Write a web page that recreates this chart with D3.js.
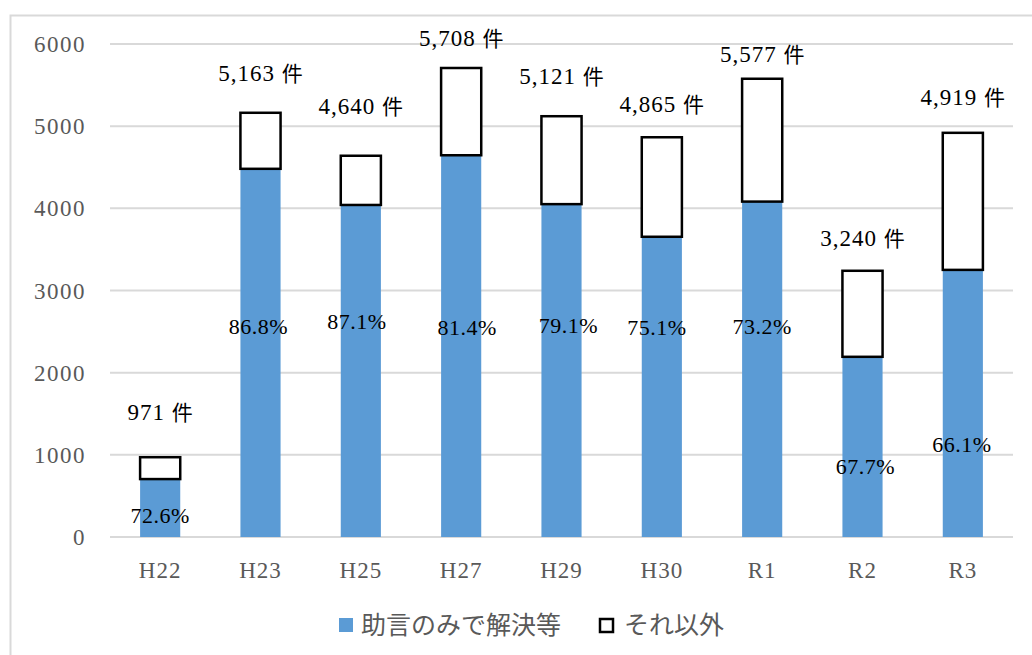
<!DOCTYPE html>
<html>
<head>
<meta charset="utf-8">
<script src="https://cdn.jsdelivr.net/npm/d3@7"></script>
<style>
  body { margin: 0; background: #fff; }
  svg text { font-family: "Liberation Serif", "DejaVu Serif", serif; }
  .jp { font-family: "Noto Sans CJK JP", sans-serif; }
</style>
</head>
<body>
<svg id="chart"></svg>
<script>
'use strict';

// data
const categories = ['H22', 'H23', 'H25', 'H27', 'H29', 'H30', 'R1', 'R2', 'R3'];
const totals = [971, 5163, 4640, 5708, 5121, 4865, 5577, 3240, 4919];
const resolved = [705, 4481, 4041, 4646, 4051, 3654, 4082, 2193, 3251];
const pctLabels = ['72.6%', '86.8%', '87.1%', '81.4%', '79.1%', '75.1%', '73.2%', '67.7%', '66.1%'];
const yTicks = [0, 1000, 2000, 3000, 4000, 5000, 6000];
const seriesNames = ['助言のみで解決等', 'それ以外'];

// hand placed labels (as in the source)
const totalLabelGap = [45, 40, 50, 30, 40, 33, 25, 33, 36];
const pctLabelAt = [270, 2560, 2620, 2550, 2580, 2550, 2570, 860, 1130];
const pctShift = [0, -2, -4, 6, 7, -5, 0, 3, -1];

const width = 1032, height = 655;
const svg = d3.select('#chart').attr('width', width).attr('height', height);

// frame
svg.append('path')
  .attr('d', `M10.5,${height} V15.5 H${width}`)
  .attr('fill', 'none')
  .attr('stroke', '#d9d9d9')
  .attr('stroke-width', 2);

const x = d3.scaleBand()
  .domain(categories)
  .range([110, 1013])
  .paddingInner(0.6)
  .paddingOuter(0.3);

const y = d3.scaleLinear()
  .domain([0, 6000])
  .range([537, 44]);

// gridlines
svg.append('g')
  .selectAll('line')
  .data(yTicks)
  .enter()
  .append('line')
  .attr('x1', 110)
  .attr('x2', 1013)
  .attr('y1', d => y(d))
  .attr('y2', d => y(d))
  .attr('stroke', '#d9d9d9')
  .attr('stroke-width', 2);

// y labels
svg.append('g')
  .selectAll('text')
  .data(yTicks)
  .enter()
  .append('text')
  .attr('x', 86)
  .attr('y', d => y(d))
  .attr('dy', '0.35em')
  .attr('text-anchor', 'end')
  .attr('fill', '#595959')
  .style('font-size', '23px')
  .style('letter-spacing', '1.5px')
  .text(d => d);

// x labels
svg.append('g')
  .selectAll('text')
  .data(categories)
  .enter()
  .append('text')
  .attr('x', d => x(d) + x.bandwidth() / 2)
  .attr('y', 570)
  .attr('dy', '0.35em')
  .attr('text-anchor', 'middle')
  .attr('fill', '#595959')
  .style('font-size', '23px')
  .style('letter-spacing', '1px')
  .text(d => d);

const bars = svg.append('g')
  .selectAll('g')
  .data(categories)
  .enter()
  .append('g');

// blue part
bars.append('rect')
  .attr('x', d => x(d))
  .attr('width', x.bandwidth())
  .attr('y', (d, i) => y(resolved[i]))
  .attr('height', (d, i) => y(0) - y(resolved[i]))
  .attr('fill', '#5b9bd5');

// remainder
bars.append('rect')
  .attr('x', d => x(d))
  .attr('width', x.bandwidth())
  .attr('y', (d, i) => y(totals[i]))
  .attr('height', (d, i) => y(resolved[i]) - y(totals[i]))
  .attr('fill', '#fff')
  .attr('stroke', '#000')
  .attr('stroke-width', 2.5);

// total labels
bars.append('text')
  .attr('x', d => x(d) + x.bandwidth() / 2)
  .attr('y', (d, i) => y(totals[i]) - totalLabelGap[i])
  .attr('dy', '0.35em')
  .attr('text-anchor', 'middle')
  .attr('fill', '#000')
  .style('font-size', '23px')
  .each(function(d, i) {
    const t = d3.select(this);
    t.append('tspan').style('letter-spacing', '1px').text(d3.format(',')(totals[i]) + ' ');
    t.append('tspan').attr('class', 'jp').style('font-size', '21px').text('件');
  });

// percent labels
bars.append('text')
  .attr('x', (d, i) => x(d) + x.bandwidth() / 2 + pctShift[i])
  .attr('y', (d, i) => y(pctLabelAt[i]))
  .attr('dy', '0.35em')
  .attr('text-anchor', 'middle')
  .attr('fill', '#000')
  .style('font-size', '22px')
  .style('letter-spacing', '0.5px')
  .text((d, i) => pctLabels[i]);

// legend
const legend = svg.append('g').attr('transform', 'translate(339,625)');
legend.append('rect')
  .attr('x', 0).attr('y', -7)
  .attr('width', 14).attr('height', 14)
  .attr('fill', '#5b9bd5');
legend.append('text')
  .attr('class', 'jp')
  .attr('x', 22).attr('y', 0).attr('dy', '0.35em')
  .attr('fill', '#595959')
  .style('font-size', '25px')
  .text(seriesNames[0]);
legend.append('rect')
  .attr('x', 261).attr('y', -6)
  .attr('width', 13).attr('height', 13)
  .attr('fill', '#fff')
  .attr('stroke', '#000')
  .attr('stroke-width', 2.5);
legend.append('text')
  .attr('class', 'jp')
  .attr('x', 285).attr('y', 0).attr('dy', '0.35em')
  .attr('fill', '#595959')
  .style('font-size', '25px')
  .text(seriesNames[1]);
</script>
</body>
</html>
